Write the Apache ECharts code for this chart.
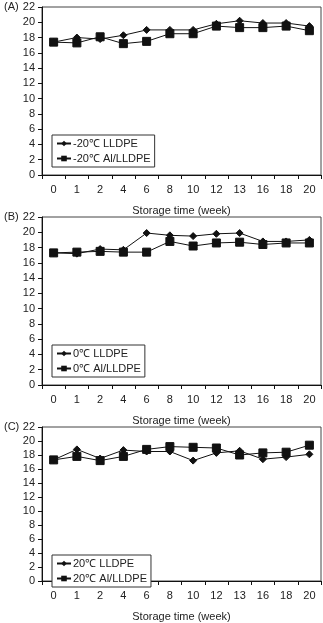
<!DOCTYPE html>
<html>
<head>
<meta charset="utf-8">
<script src="https://cdn.jsdelivr.net/npm/echarts@6/dist/echarts.min.js"></script>
<style>
  html, body { margin: 0; padding: 0; background: #fff; }
  #chart { width: 323px; height: 623px; }
</style>
</head>
<body>
<div id="chart"></div>
<script>
// Storage time categories (weeks)
const weeks = ['0', '1', '2', '4', '6', '8', '10', '12', '13', '16', '18', '20'];
const yTicks = { min: 0, max: 22, interval: 2 };

// Panel A: -20 °C
const lldpeA = [17.4, 18.0, 17.8, 18.3, 19.0, 19.0, 19.0, 19.8, 20.2, 19.9, 19.9, 19.5];
const alA = [17.4, 17.3, 18.1, 17.2, 17.5, 18.5, 18.5, 19.5, 19.3, 19.3, 19.5, 18.9];

// Panel B: 0 °C
const lldpeB = [17.3, 17.2, 17.8, 17.7, 19.9, 19.6, 19.5, 19.8, 19.9, 18.8, 18.8, 19.0];
const alB = [17.3, 17.4, 17.5, 17.4, 17.4, 18.8, 18.2, 18.6, 18.7, 18.4, 18.6, 18.6];

// Panel C: 20 °C
const lldpeC = [17.3, 18.8, 17.5, 18.7, 18.5, 18.5, 17.2, 18.3, 18.6, 17.4, 17.7, 18.1];
const alC = [17.3, 17.8, 17.2, 17.8, 18.8, 19.2, 19.1, 19.0, 18.0, 18.3, 18.4, 19.4];

const panels = [
    { tag: '(A)', top: 7, names: ['-20℃ LLDPE', '-20℃ Al/LLDPE'], data: [lldpeA, alA] },
    { tag: '(B)', top: 217, names: ['0℃ LLDPE', '0℃ Al/LLDPE'], data: [lldpeB, alB] },
    { tag: '(C)', top: 427, names: ['20℃ LLDPE', '20℃ Al/LLDPE'], data: [lldpeC, alC] }
];

const FONT = 'Liberation Sans, Arial, sans-serif';
const TEXT = '#222';
const LINE = '#111';
const PLOT_H = 168;

const chart = echarts.init(document.getElementById('chart'));

const grid = [];
const xAxis = [];
const yAxis = [];
const series = [];
const legend = [];
const graphic = [];

panels.forEach((p, i) => {
    grid.push({
        left: 42,
        right: 2,
        top: p.top,
        height: PLOT_H,
        show: true,
        borderColor: '#444',
        borderWidth: 1,
        backgroundColor: 'transparent'
    });

    xAxis.push({
        type: 'category',
        gridIndex: i,
        data: weeks,
        boundaryGap: true,
        name: 'Storage time (week)',
        nameLocation: 'middle',
        nameGap: 30,
        nameTextStyle: { color: TEXT, fontSize: 11, fontFamily: FONT },
        axisLine: { lineStyle: { color: LINE, width: 1 } },
        axisTick: { show: true, inside: false, length: 4, lineStyle: { color: LINE } },
        axisLabel: { color: TEXT, fontSize: 11, fontFamily: FONT, margin: 9, interval: 0 },
        splitLine: { show: false }
    });

    yAxis.push({
        type: 'value',
        gridIndex: i,
        min: yTicks.min,
        max: yTicks.max,
        interval: yTicks.interval,
        axisLine: { show: true, lineStyle: { color: LINE, width: 1 } },
        axisTick: { show: true, inside: false, length: 4, lineStyle: { color: LINE } },
        axisLabel: { color: TEXT, fontSize: 11, fontFamily: FONT, margin: 7 },
        splitLine: { show: false }
    });

    const symbols = ['diamond', 'rect'];
    const sizes = [7, 8];
    p.names.forEach((name, k) => {
        series.push({
            name: name,
            type: 'line',
            xAxisIndex: i,
            yAxisIndex: i,
            data: p.data[k],
            symbol: symbols[k],
            symbolSize: sizes[k],
            showSymbol: true,
            lineStyle: { color: LINE, width: 1 },
            itemStyle: { color: LINE, borderColor: LINE },
            animation: false
        });
    });

    legend.push({
        data: p.names,
        orient: 'vertical',
        left: 52,
        top: p.top + 128,
        itemGap: 4,
        itemWidth: 14,
        itemHeight: 7,
        padding: [3, 4, 3, 4],
        borderColor: '#333',
        borderWidth: 1,
        backgroundColor: '#fff',
        textStyle: { color: TEXT, fontSize: 11, fontFamily: FONT, padding: [0, 0, 0, -3] },
        selectedMode: false
    });

    graphic.push({
        type: 'text',
        left: 4,
        top: p.top - 6,
        style: { text: p.tag, fill: TEXT, fontSize: 11, fontFamily: FONT }
    });
});

chart.setOption({
    animation: false,
    grid,
    xAxis,
    yAxis,
    series,
    legend,
    graphic
});
</script>
</body>
</html>
